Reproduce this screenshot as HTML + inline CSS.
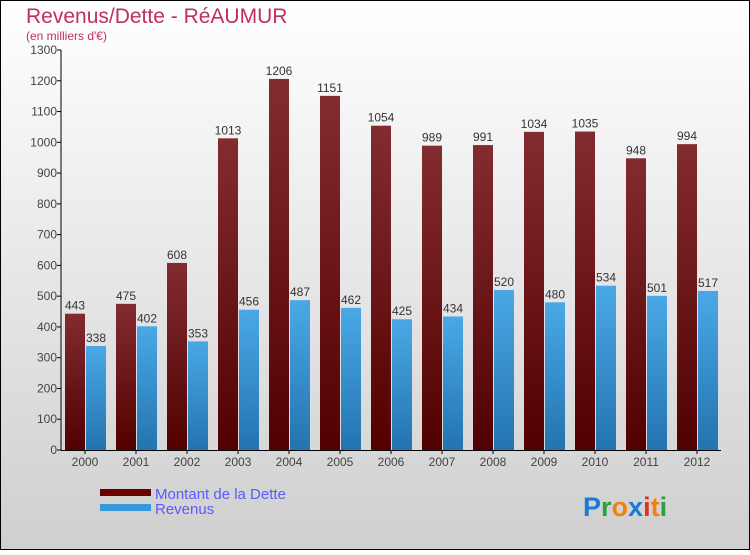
<!DOCTYPE html>
<html><head><meta charset="utf-8"><style>
body{margin:0;width:750px;height:550px;overflow:hidden;font-family:"Liberation Sans",sans-serif}
</style></head><body>
<svg width="750" height="550" xmlns="http://www.w3.org/2000/svg">
<defs>
<linearGradient id="bg" x1="0" y1="0" x2="0" y2="1"><stop offset="0" stop-color="#ffffff"/><stop offset="1" stop-color="#cfcfcf"/></linearGradient>
<linearGradient id="gd" x1="0" y1="0" x2="0" y2="1"><stop offset="0" stop-color="#832c30"/><stop offset="1" stop-color="#520000"/></linearGradient>
<linearGradient id="gr" x1="0" y1="0" x2="0" y2="1"><stop offset="0" stop-color="#4aa8e6"/><stop offset="1" stop-color="#2374b0"/></linearGradient>
</defs>
<rect x="0.5" y="0.5" width="749" height="549" fill="url(#bg)" stroke="#000"/>
<text x="26" y="23" font-size="21" fill="#c0305a">Revenus/Dette - RéAUMUR</text>
<text x="26" y="40" font-size="12" fill="#c0305a">(en milliers d'€)</text>
<g id="axes"></g>
<g id="bars"></g>
<g>
<rect x="100" y="489" width="51" height="7" fill="#6a0000"/>
<text x="155" y="499" font-size="15" fill="#5a5aff">Montant de la Dette</text>
<rect x="100" y="504" width="51" height="7" fill="#3898dc"/>
<text x="155" y="514" font-size="15" fill="#5a5aff">Revenus</text>
</g>
<g font-size="27" font-weight="bold">
<text x="583" y="516"><tspan fill="#1a7ad4">P</tspan><tspan fill="#2aa040">r</tspan><tspan fill="#f08010">o</tspan><tspan fill="#1a7ad4">x</tspan><tspan fill="#e03020">i</tspan><tspan fill="#f08010">t</tspan><tspan fill="#2aa040">i</tspan></text>
</g>
</svg>
<script>
const years=["2000","2001","2002","2003","2004","2005","2006","2007","2008","2009","2010","2011","2012"];
const dette=[443,475,608,1013,1206,1151,1054,989,991,1034,1035,948,994];
const revenus=[338,402,353,456,487,462,425,434,520,480,534,501,517];
const yTicks=[0,100,200,300,400,500,600,700,800,900,1000,1100,1200,1300];
const NS="http://www.w3.org/2000/svg";
const y0=450,yScale=400/1300;
const Y=v=>y0-v*yScale;
const X=i=>85+i*51;
function mk(tag,attrs,parent,txt){const e=document.createElementNS(NS,tag);for(const k in attrs)e.setAttribute(k,attrs[k]);if(txt!==undefined)e.textContent=txt;parent.appendChild(e);return e;}
const ax=document.getElementById('axes'),bg=document.getElementById('bars');
yTicks.forEach(t=>{
 const l=mk('line',{x1:57,x2:61,y1:Y(t),y2:Y(t),stroke:'#000'},ax);
 
 
 const tx=mk('text',{x:57,y:Y(t)+4,'font-size':12,fill:'#444','text-anchor':'end'},ax,t);
 
 
});
years.forEach((yr,i)=>{
 const c=X(i);
 const d=mk('rect',{x:c-20,y:Y(dette[i]),width:20,height:dette[i]*yScale,fill:'url(#gd)'},bg);
 
 
 const r=mk('rect',{x:c+1,y:Y(revenus[i]),width:20,height:revenus[i]*yScale,fill:'url(#gr)'},bg);
 
 
 const dl=mk('text',{x:c-10,y:Y(dette[i])-4,'font-size':12,fill:'#333','text-anchor':'middle'},bg,dette[i]);
 
 
 const rl=mk('text',{x:c+11,y:Y(revenus[i])-4,'font-size':12,fill:'#333','text-anchor':'middle'},bg,revenus[i]);
 
 
 const tk=mk('line',{x1:c,x2:c,y1:450,y2:454,stroke:'#000'},ax);
 
 
 const xl=mk('text',{x:c,y:466,'font-size':12,fill:'#444','text-anchor':'middle'},ax,yr);
 
 
});
const ya=mk('line',{x1:61,x2:61,y1:Y(1300),y2:450,stroke:'#000'},ax);


const xa=mk('line',{x1:61,x2:721,y1:450.5,y2:450.5,stroke:'#000'},ax);


</script>
</body></html>
